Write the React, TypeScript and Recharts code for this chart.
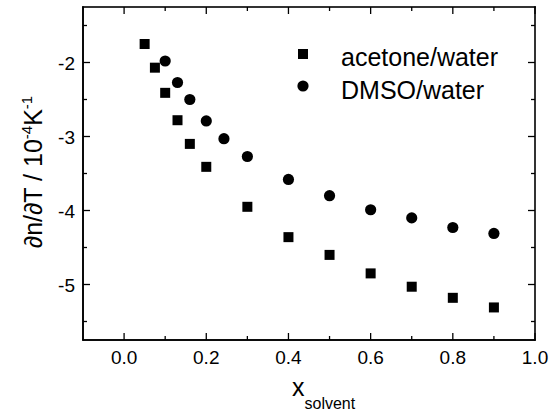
import React from 'react';
import * as R from 'recharts';

const { ScatterChart, Scatter, XAxis, YAxis, Legend } = R as any;

const acetoneX = [0.05, 0.075, 0.1, 0.13, 0.16, 0.2, 0.3, 0.4, 0.5, 0.6, 0.7, 0.8, 0.9];
const acetoneY = [-1.75, -2.07, -2.41, -2.78, -3.1, -3.41, -3.95, -4.36, -4.6, -4.85, -5.03, -5.18, -5.31];
const dmsoX = [0.1, 0.13, 0.16, 0.2, 0.243, 0.3, 0.4, 0.5, 0.6, 0.7, 0.8, 0.9];
const dmsoY = [-1.98, -2.27, -2.5, -2.79, -3.03, -3.27, -3.58, -3.8, -3.99, -4.1, -4.23, -4.31];

const xMajor = [0, 0.2, 0.4, 0.6, 0.8, 1.0];
const xMinor = [0.1, 0.3, 0.5, 0.7, 0.9];
const xLabels = ['0.0', '0.2', '0.4', '0.6', '0.8', '1.0'];
const yMajor = [-5, -4, -3, -2];
const yMinor = [-5.5, -4.5, -3.5, -2.5, -1.5];
const yLabels = ['-5', '-4', '-3', '-2'];

const xDomain = [-0.1, 1.0];
const yDomain = [-5.75, -1.25];

const seriesNames = ['acetone/water', 'DMSO/water'];

const acetone = acetoneX.map((x, i) => ({ x, y: acetoneY[i] }));
const dmso = dmsoX.map((x, i) => ({ x, y: dmsoY[i] }));

const xTicks = [...xMajor, ...xMinor].sort((a, b) => a - b);
const yTicks = [...yMajor, ...yMinor].sort((a, b) => a - b);

const W = 552;
const H = 419;
const PLOT = { left: 83, top: 7, width: 452, height: 333 };

const FONT = '"Liberation Sans", Arial, sans-serif';
const MAJ = 7;
const MIN = 4;
const LW = 1.6;
const TW = 1.3;

const isMajor = (arr: number[], v: number) => arr.some((m) => Math.abs(m - v) < 1e-9);
const labelFor = (arr: number[], labels: string[], v: number) => {
  const i = arr.findIndex((m) => Math.abs(m - v) < 1e-9);
  return i >= 0 ? labels[i] : '';
};

const usePlotAreaSafe: () => any = (R as any).usePlotArea || (() => null);

// Plot-box frame drawn as filled bars, with mirrored ticks on the top and right edges
const SvgFrame = () => {
  const pa = usePlotAreaSafe();
  const box = pa && pa.width > 0 ? pa : { x: PLOT.left, y: PLOT.top, width: PLOT.width, height: PLOT.height };
  const { x, y, width, height } = box;
  const sx = (v: number) => x + ((v - xDomain[0]) / (xDomain[1] - xDomain[0])) * width;
  const sy = (v: number) => y + ((yDomain[1] - v) / (yDomain[1] - yDomain[0])) * height;
  return (
    <g>
      <rect x={x - LW / 2} y={y - LW / 2} width={width + LW} height={LW} fill="#000" />
      <rect x={x - LW / 2} y={y + height - LW / 2} width={width + LW} height={LW} fill="#000" />
      <rect x={x - LW / 2} y={y - LW / 2} width={LW} height={height + LW} fill="#000" />
      <rect x={x + width - LW / 2} y={y - LW / 2} width={LW} height={height + LW} fill="#000" />
      {xTicks.map((v) => (
        <rect
          key={'t' + v}
          x={sx(v) - TW / 2}
          y={y}
          width={TW}
          height={isMajor(xMajor, v) ? MAJ : MIN}
          fill="#000"
        />
      ))}
      {yTicks.map((v) => (
        <rect
          key={'r' + v}
          x={x + width - (isMajor(yMajor, v) ? MAJ : MIN)}
          y={sy(v) - TW / 2}
          width={isMajor(yMajor, v) ? MAJ : MIN}
          height={TW}
          fill="#000"
        />
      ))}
    </g>
  );
};

const BottomTick = (p: any) => {
  const { x, y, payload } = p;
  const maj = isMajor(xMajor, payload.value);
  return (
    <g>
      <line x1={x} x2={x} y1={y} y2={y - (maj ? MAJ : MIN)} stroke="#000" strokeWidth={TW} />
      {maj && (
        <text x={x} y={y + 24} textAnchor="middle" fontSize={19} fontFamily={FONT} fill="#000">
          {labelFor(xMajor, xLabels, payload.value)}
        </text>
      )}
    </g>
  );
};

const LeftTick = (p: any) => {
  const { x, y, payload } = p;
  const maj = isMajor(yMajor, payload.value);
  return (
    <g>
      <line x1={x} x2={x + (maj ? MAJ : MIN)} y1={y} y2={y} stroke="#000" strokeWidth={TW} />
      {maj && (
        <text x={x - 8} y={y + 7} textAnchor="end" fontSize={19} fontFamily={FONT} fill="#000">
          {labelFor(yMajor, yLabels, payload.value)}
        </text>
      )}
    </g>
  );
};

const SquareShape = (p: any) => <rect x={p.cx - 5} y={p.cy - 5} width={10} height={10} fill="#000" />;
const CircleShape = (p: any) => <circle cx={p.cx} cy={p.cy} r={5.6} fill="#000" />;

const YLabel = () => (
  <text
    transform="translate(42, 172) rotate(-90)"
    textAnchor="middle"
    fontSize={25}
    fontFamily={FONT}
    fill="#000"
  >
    <tspan>∂n/∂T / 10</tspan>
    <tspan fontSize={15} dy={-10}>-4</tspan>
    <tspan dy={10}>K</tspan>
    <tspan fontSize={15} dy={-10}>-1</tspan>
  </text>
);

const XLabel = () => (
  <text x={292} y={396} fontSize={25} fontFamily={FONT} fill="#000">
    x<tspan fontSize={16} dy={13}>solvent</tspan>
  </text>
);

const LegendContent = () => (
  <svg width={250} height={70} style={{ display: 'block' }}>
    <rect x={8} y={9} width={10} height={10} fill="#000" />
    <text x={51} y={26} fontSize={25} fontFamily={FONT} fill="#000">{seriesNames[0]}</text>
    <circle cx={13} cy={46} r={5.6} fill="#000" />
    <text x={51} y={59} fontSize={25} fontFamily={FONT} fill="#000">{seriesNames[1]}</text>
  </svg>
);

export default function App() {
  return (
    <div style={{ position: 'absolute', left: 0, top: 0, width: W, height: H, background: '#fff' }}>
      <ScatterChart
        width={W}
        height={H}
        margin={{ top: PLOT.top, right: W - PLOT.left - PLOT.width, bottom: 0, left: 0 }}
      >
        <XAxis
          dataKey="x"
          type="number"
          domain={xDomain}
          ticks={xTicks}
          interval={0}
          height={H - PLOT.top - PLOT.height}
          tickSize={0}
          tickMargin={0}
          tickLine={false}
          tick={<BottomTick />}
          stroke="#000"
          axisLine={{ stroke: '#000', strokeWidth: LW }}
          label={<XLabel />}
        />
        <YAxis
          dataKey="y"
          type="number"
          domain={yDomain}
          ticks={yTicks}
          interval={0}
          width={PLOT.left}
          tickSize={0}
          tickMargin={0}
          tickLine={false}
          tick={<LeftTick />}
          stroke="#000"
          axisLine={{ stroke: '#000', strokeWidth: LW }}
          label={<YLabel />}
        />
        <Legend
          layout="vertical"
          align="center"
          verticalAlign="middle"
          content={<LegendContent />}
          wrapperStyle={{ position: 'absolute', left: 290, top: 40, width: 250, height: 70 }}
        />
        <Scatter
          name={seriesNames[0]}
          data={acetone}
          shape={<SquareShape />}
          fill="#000"
          isAnimationActive={false}
        />
        <Scatter
          name={seriesNames[1]}
          data={dmso}
          shape={<CircleShape />}
          fill="#000"
          isAnimationActive={false}
        />
        <SvgFrame />
      </ScatterChart>
    </div>
  );
}
